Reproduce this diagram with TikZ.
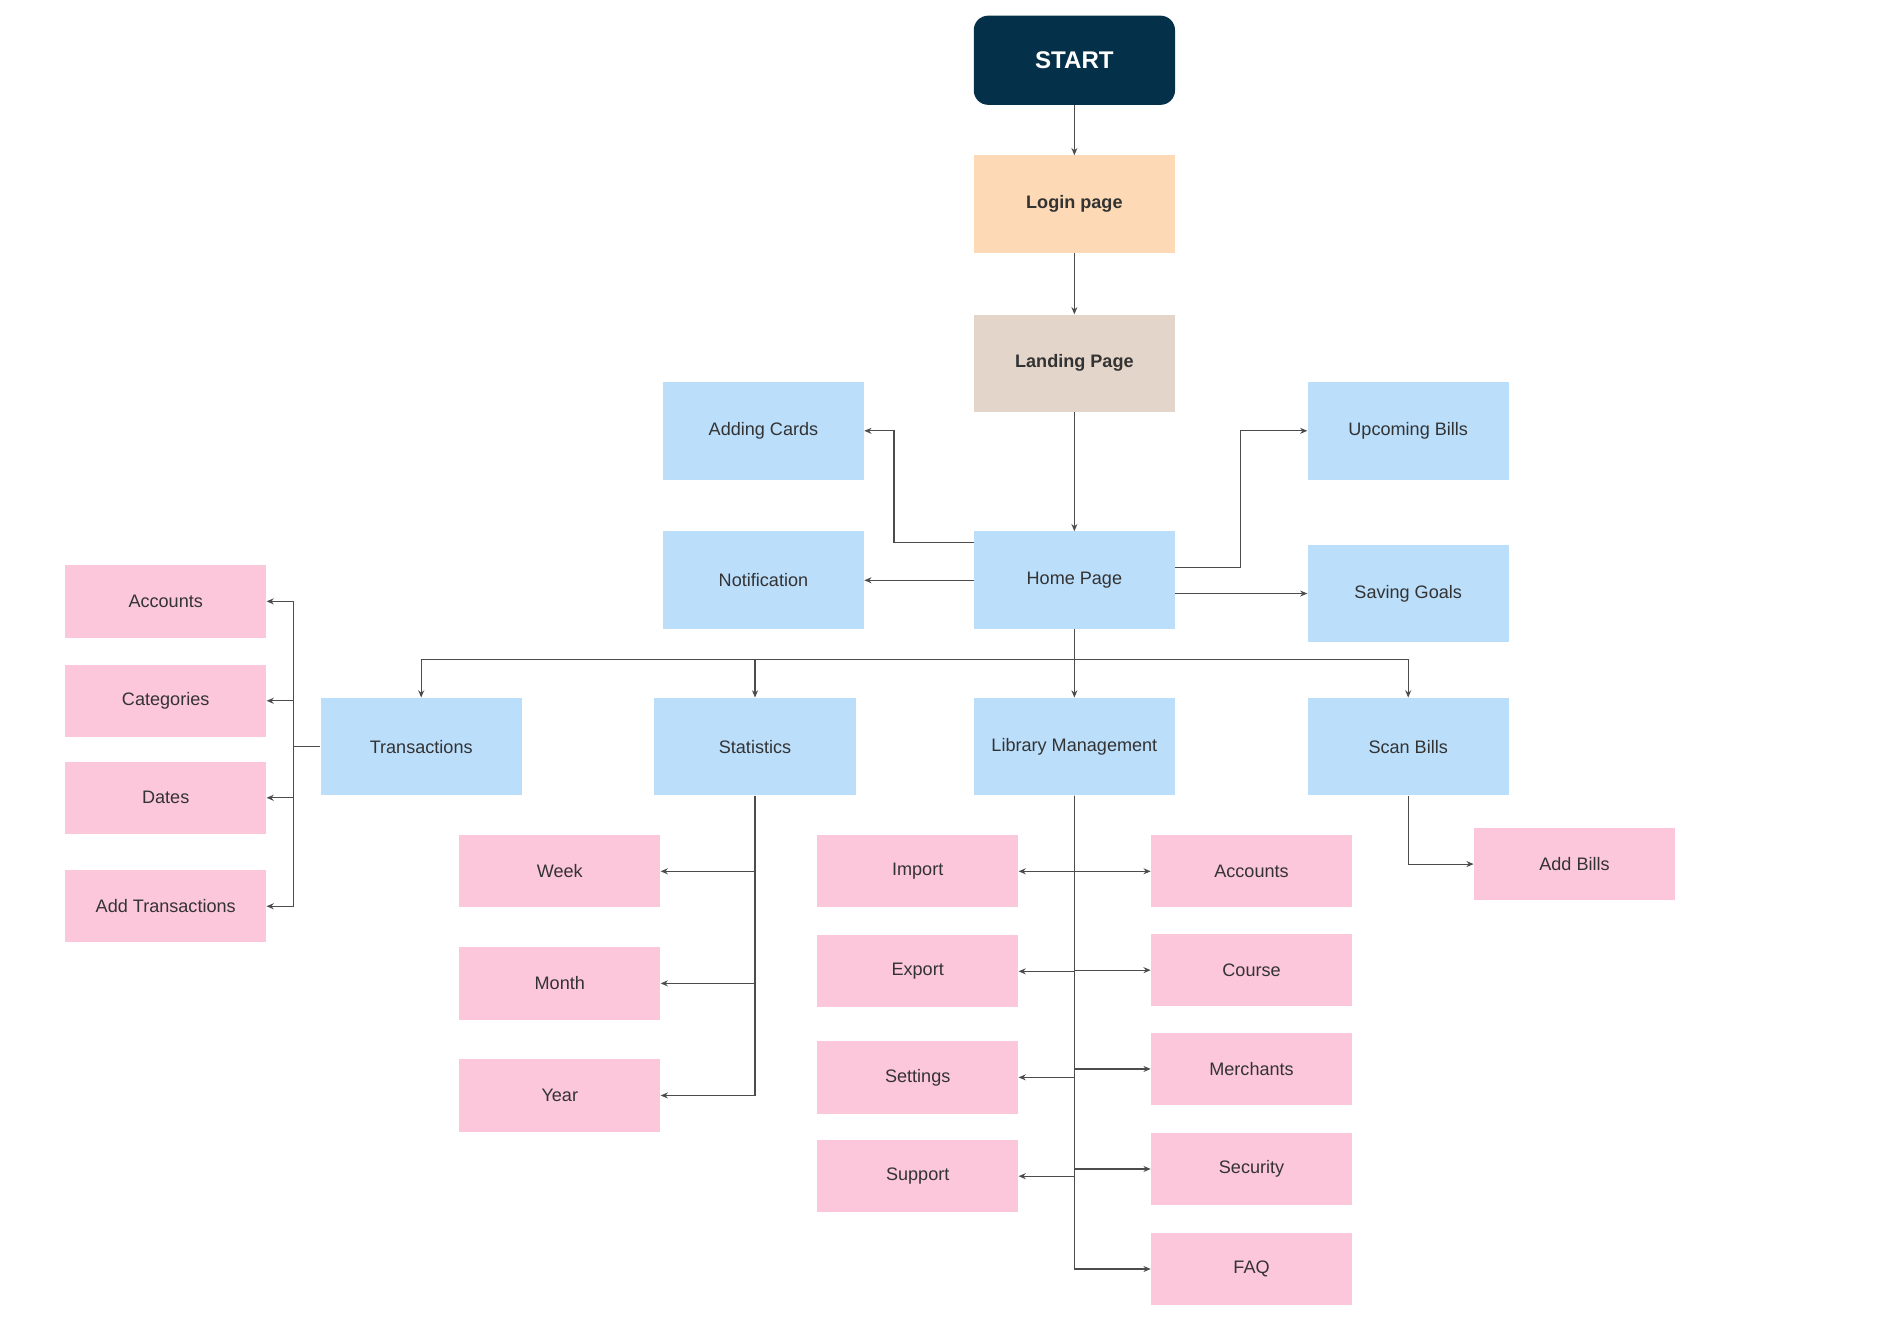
\documentclass[tikz,border=0pt]{standalone}
\usepackage{fontspec}
\setmainfont{Liberation Sans}
\usetikzlibrary{arrows.meta}
\definecolor{navy}{HTML}{04304A}
\definecolor{peach}{HTML}{FDD9B5}
\definecolor{beige}{HTML}{E3D5CA}
\definecolor{lblue}{HTML}{BBDEFB}
\definecolor{pinkc}{HTML}{FCC7DB}
\definecolor{txt}{HTML}{333333}
\begin{document}
\begin{tikzpicture}[x=1pt,y=-1pt,
 box/.style={draw=none,minimum width=167pt,minimum height=81pt,inner sep=0,font=\fontsize{15}{17}\selectfont,text=txt},
 blue/.style={box,fill=lblue},
 pink/.style={box,fill=pinkc,minimum height=60pt},
 arr/.style={draw=black!70,line width=0.9pt,-{Stealth[length=6pt,width=5pt]}},
 ln/.style={draw=black!70,line width=0.9pt}]
\useasboundingbox (0,0) rectangle (1560,1107);
\node[box,fill=navy,rounded corners=12pt,minimum height=74pt,text=white,font=\fontsize{20}{22}\selectfont\bfseries] (start) at (891.5,50) {START};
\node[box,fill=peach,font=\fontsize{15}{17}\selectfont\bfseries] (login) at (891.5,169.5) {Login page};
\node[box,fill=beige,font=\fontsize{15}{17}\selectfont\bfseries] (land) at (891.5,301.5) {Landing Page};
\node[blue] (adding) at (633.5,357.5) {Adding Cards};
\node[blue] (upc) at (1168.5,357.5) {Upcoming Bills};
\node[blue] (notif) at (633.5,481.5) {Notification};
\node[blue] (home) at (891.5,481.5) {Home Page};
\node[blue] (saving) at (1168.5,492.5) {Saving Goals};
\node[blue] (trans) at (349.5,619.5) {Transactions};
\node[blue] (stat) at (626.5,619.5) {Statistics};
\node[blue] (lib) at (891.5,619.5) {Library Management};
\node[blue] (scan) at (1168.5,619.5) {Scan Bills};
\node[pink] (lacc) at (137.5,499) {Accounts};
\node[pink] (cat) at (137.5,581.5) {Categories};
\node[pink] (dates) at (137.5,662) {Dates};
\node[pink] (addt) at (137.5,752) {Add Transactions};
\node[pink] (week) at (464.5,723) {Week};
\node[pink] (month) at (464.5,816) {Month};
\node[pink] (year) at (464.5,909) {Year};
\node[pink] (import) at (761.5,723) {Import};
\node[pink] (export) at (761.5,806) {Export};
\node[pink] (settings) at (761.5,894) {Settings};
\node[pink] (support) at (761.5,976) {Support};
\node[pink] (racc) at (1038.5,723) {Accounts};
\node[pink] (course) at (1038.5,805) {Course};
\node[pink] (merch) at (1038.5,887) {Merchants};
\node[pink] (sec) at (1038.5,970) {Security};
\node[pink] (faq) at (1038.5,1053) {FAQ};
\node[pink] (addb) at (1306.5,717) {Add Bills};
% connectors
\draw[arr] (start) -- (login);
\draw[arr] (login) -- (land);
\draw[arr] (land) -- (home);
\draw[arr] ([yshift=31.5pt]home.west) -- ++(-66,0) |- (adding.east);
\draw[arr] (home.west) -- (notif.east);
\draw[arr] ([yshift=10.5pt]home.east) -- ++(54,0) |- (upc.west);
\draw[arr] (home.east |- saving.west) -- (saving.west);
\draw[arr] (home.south) -- (lib.north);
\draw[arr] (home.south) -- ++(0,25) -| (trans.north);
\draw[arr] (home.south) -- ++(0,25) -| (stat.north);
\draw[arr] (home.south) -- ++(0,25) -| (scan.north);
\draw[ln] (trans.west) -- ++(-22,0) coordinate (tb);
\foreach \n in {lacc,cat,dates,addt} \draw[arr] (tb) |- (\n.east);
\foreach \n in {week,month,year} \draw[arr] (stat.south) |- (\n.east);
\foreach \n in {import,export,settings,support} \draw[arr] (lib.south) |- (\n.east);
\foreach \n in {racc,course,merch,sec,faq} \draw[arr] (lib.south) |- (\n.west);
\draw[arr] (scan.south) |- (addb.west);
\end{tikzpicture}
\end{document}
